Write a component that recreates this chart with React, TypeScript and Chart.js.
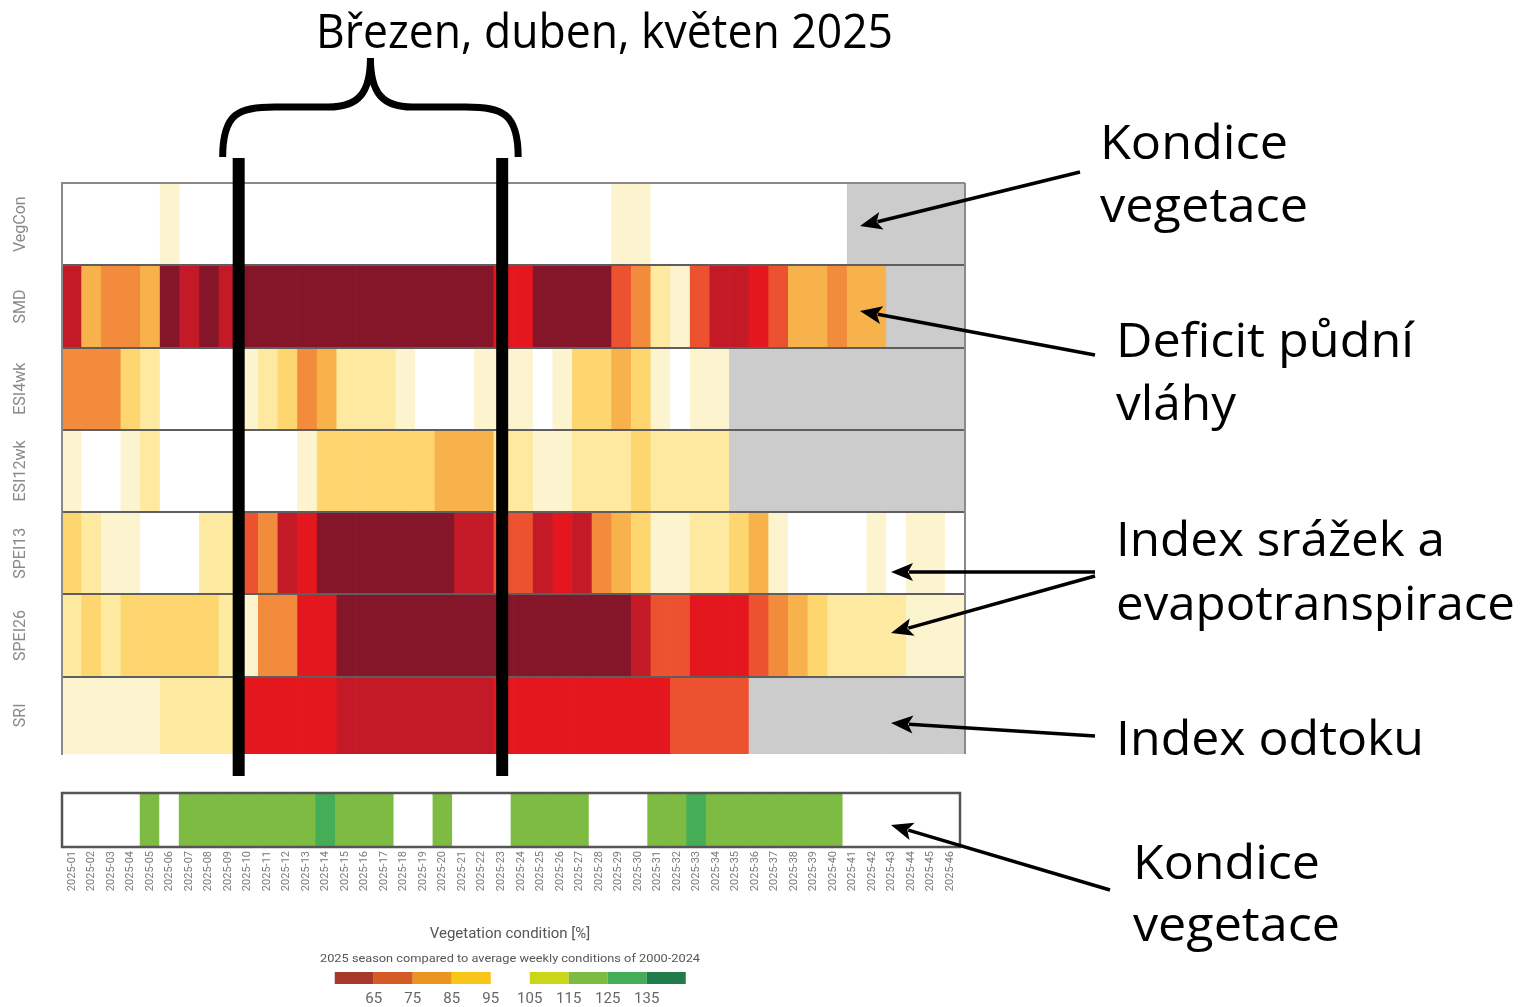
import { useEffect, useRef } from "react";
import { Chart, registerables } from "chart.js";

Chart.register(...registerables);

// ---------- DATA ----------
const weeks = [
  "2025-01", "2025-02", "2025-03", "2025-04", "2025-05", "2025-06", "2025-07", "2025-08", "2025-09", "2025-10",
  "2025-11", "2025-12", "2025-13", "2025-14", "2025-15", "2025-16", "2025-17", "2025-18", "2025-19", "2025-20",
  "2025-21", "2025-22", "2025-23", "2025-24", "2025-25", "2025-26", "2025-27", "2025-28", "2025-29", "2025-30",
  "2025-31", "2025-32", "2025-33", "2025-34", "2025-35", "2025-36", "2025-37", "2025-38", "2025-39", "2025-40",
  "2025-41", "2025-42", "2025-43", "2025-44", "2025-45", "2025-46",
];

const rowLabels = ["VegCon", "SMD", "ESI4wk", "ESI12wk", "SPEI13", "SPEI26", "SRI"];

// severity levels: 0 = none ... 9 = extreme, null = no data
const vegCon = [0, 0, 0, 0, 0, 1, 0, 0, 0, 0, 0, 0, 0, 0, 0, 0, 0, 0, 0, 0, 0, 0, 0, 0, 0, 0, 0, 0, 1, 1, 0, 0, 0, 0, 0, 0, 0, 0, 0, 0, null, null, null, null, null, null];
const smd = [8, 4, 5, 5, 4, 9, 8, 9, 8, 9, 9, 9, 9, 9, 9, 9, 9, 9, 9, 9, 9, 9, 7, 7, 9, 9, 9, 9, 6, 5, 2, 1, 6, 8, 8, 7, 6, 4, 4, 5, 4, 4, null, null, null, null];
const esi4wk = [5, 5, 5, 3, 2, 0, 0, 0, 0, 1, 2, 3, 5, 4, 2, 2, 2, 1, 0, 0, 0, 1, 1, 1, 0, 1, 3, 3, 4, 3, 1, 0, 1, 1, null, null, null, null, null, null, null, null, null, null, null, null];
const esi12wk = [1, 0, 0, 1, 2, 0, 0, 0, 0, 0, 0, 0, 1, 3, 3, 3, 3, 3, 3, 4, 4, 4, 2, 2, 1, 1, 2, 2, 2, 3, 2, 2, 2, 2, null, null, null, null, null, null, null, null, null, null, null, null];
const spei13 = [3, 2, 1, 1, 0, 0, 0, 2, 2, 6, 5, 8, 7, 9, 9, 9, 9, 9, 9, 9, 8, 8, 6, 6, 8, 7, 8, 5, 4, 3, 1, 1, 2, 2, 3, 4, 1, 0, 0, 0, 0, 1, 0, 1, 1, 0];
const spei26 = [2, 3, 2, 3, 3, 3, 3, 3, 2, 1, 5, 5, 7, 7, 9, 9, 9, 9, 9, 9, 9, 9, 9, 9, 9, 9, 9, 9, 9, 8, 6, 6, 7, 7, 7, 6, 5, 4, 3, 2, 2, 2, 2, 1, 1, 1];
const sri = [1, 1, 1, 1, 1, 2, 2, 2, 2, 7, 7, 7, 7, 7, 8, 8, 8, 8, 8, 8, 8, 8, 7, 7, 7, 7, 7, 7, 7, 7, 7, 6, 6, 6, 6, null, null, null, null, null, null, null, null, null, null, null];

// vegetation condition [%] per week (bottom strip)
const vegCondition = [100, 100, 100, 100, 120, 100, 120, 120, 120, 120, 120, 120, 120, 130, 120, 120, 120, 100, 100, 120, 100, 100, 100, 120, 120, 120, 120, 100, 100, 100, 120, 120, 130, 120, 120, 120, 120, 120, 120, 120, 100, 100, 100, 100, 100, 100];

const legendBounds = [55, 65, 75, 85, 95, 105, 115, 125, 135, 145];
const legendColors = ["#a5372b", "#d45a26", "#e9951f", "#f9c51a", null, "#cbd619", "#7dbb42", "#45ad57", "#1f7b4a"];
const legendTicks = [65, 75, 85, 95, 105, 115, 125, 135];

const periodStart = "2025-10";
const periodEnd = "2025-23";

// ---------- STYLE ----------
const levelColors = ["#ffffff", "#fbf4cf", "#fde99f", "#fdd670", "#f7b24b", "#f28b3c", "#ec5230", "#e3171d", "#c41a28", "#851629"];
const noDataColor = "#cccccc";
const rows = [vegCon, smd, esi4wk, esi12wk, spei13, spei26, sri];
const FONT = '"Open Sans", "Noto Sans", sans-serif';

function vegColor(v: number) {
  for (let i = 0; i < legendColors.length; i++) {
    if (v >= legendBounds[i] && v < legendBounds[i + 1]) return legendColors[i] || "#ffffff";
  }
  return "#ffffff";
}

function drawFit(ctx: CanvasRenderingContext2D, text: string, x: number, y: number, size: number, width: number) {
  ctx.font = `${size}px ${FONT}`;
  const w = ctx.measureText(text).width;
  ctx.save();
  ctx.translate(x, y);
  ctx.scale(width / w, 1);
  ctx.textAlign = "left";
  ctx.textBaseline = "alphabetic";
  ctx.fillText(text, 0, 0);
  ctx.restore();
}

function arrow(ctx: CanvasRenderingContext2D, x1: number, y1: number, x2: number, y2: number) {
  const a = Math.atan2(y2 - y1, x2 - x1);
  const hl = 22, hw = 9;
  const bx = x2 - hl * Math.cos(a), by = y2 - hl * Math.sin(a);
  ctx.lineWidth = 3.5;
  ctx.beginPath();
  ctx.moveTo(x1, y1);
  ctx.lineTo(bx + 4 * Math.cos(a), by + 4 * Math.sin(a));
  ctx.stroke();
  ctx.beginPath();
  ctx.moveTo(x2, y2);
  ctx.lineTo(bx + hw * Math.sin(a), by - hw * Math.cos(a));
  ctx.lineTo(bx + 5 * Math.cos(a), by + 5 * Math.sin(a));
  ctx.lineTo(bx - hw * Math.sin(a), by + hw * Math.cos(a));
  ctx.closePath();
  ctx.fill();
}

const overlayPlugin = {
  id: "overlay",
  afterDraw(chart: any) {
    const { ctx, chartArea, scales } = chart;
    const xs = scales.x, ys = scales.y;
    ctx.save();
    // right frame line
    ctx.strokeStyle = "#8a8a8a";
    ctx.lineWidth = 2;
    ctx.beginPath();
    ctx.moveTo(chartArea.right, chartArea.top);
    ctx.lineTo(chartArea.right, chartArea.bottom);
    ctx.stroke();

    // row labels
    ctx.fillStyle = "#8a8a8a";
    ctx.font = "16px Roboto";
    ctx.textAlign = "center";
    ctx.textBaseline = "middle";
    rowLabels.forEach((lab, i) => {
      const y0 = ys.getPixelForValue(i);
      const y1 = Math.min(ys.getPixelForValue(i + 1), chartArea.bottom);
      ctx.save();
      ctx.translate(21, (y0 + y1) / 2);
      ctx.rotate(-Math.PI / 2);
      ctx.fillText(lab, 0, 0);
      ctx.restore();
    });

    // period lines
    const half = (xs.getPixelForValue(1) - xs.getPixelForValue(0)) / 2;
    const lx = xs.getPixelForValue(weeks.indexOf(periodStart)) - half;
    const rx = xs.getPixelForValue(weeks.indexOf(periodEnd)) - 1.5;
    ctx.fillStyle = "#000";
    ctx.fillRect(lx - 6, 158, 12, 618);
    ctx.fillRect(rx - 6, 158, 12, 618);

    // brace
    const L = lx - 16, R = rx + 16, M = (L + R) / 2;
    const yb = 157, ym = 107, yp = 58;
    ctx.strokeStyle = "#000";
    ctx.lineWidth = 7;
    ctx.lineCap = "butt";
    ctx.beginPath();
    ctx.moveTo(L, yb);
    ctx.bezierCurveTo(L, ym + 6, L + 16, ym, L + 52, ym);
    ctx.lineTo(M - 42, ym);
    ctx.bezierCurveTo(M - 12, ym, M, ym - 14, M, yp);
    ctx.bezierCurveTo(M, ym - 14, M + 12, ym, M + 42, ym);
    ctx.lineTo(R - 52, ym);
    ctx.bezierCurveTo(R - 16, ym, R, ym + 6, R, yb);
    ctx.stroke();

    // texts
    ctx.fillStyle = "#000";
    drawFit(ctx, "Březen, duben, květen 2025", 316, 48, 47, 577);
    drawFit(ctx, "Kondice", 1100, 159, 47, 188);
    drawFit(ctx, "vegetace", 1100, 222, 47, 208);
    drawFit(ctx, "Deficit půdní", 1116, 357, 47, 298);
    drawFit(ctx, "vláhy", 1116, 420, 47, 120);
    drawFit(ctx, "Index srážek a", 1116, 556, 47, 329);
    drawFit(ctx, "evapotranspirace", 1116, 620, 47, 399);
    drawFit(ctx, "Index odtoku", 1116, 755, 47, 308);
    drawFit(ctx, "Kondice", 1133, 879, 47, 187);
    drawFit(ctx, "vegetace", 1133, 941, 47, 207);

    // arrows
    ctx.strokeStyle = "#000";
    ctx.fillStyle = "#000";
    arrow(ctx, 1080, 172, 860, 226);
    arrow(ctx, 1095, 355, 860, 311);
    arrow(ctx, 1095, 572, 891, 572);
    arrow(ctx, 1095, 576, 891, 633);
    arrow(ctx, 1095, 736, 891, 723);
    arrow(ctx, 1110, 890, 891, 825);

    // colour legend
    const lx0 = 334.75, per = 3.9;
    const vx = (v: number) => lx0 + (v - legendBounds[0]) * per;
    ctx.fillStyle = "#555";
    ctx.font = "15px Roboto";
    ctx.textAlign = "center";
    ctx.textBaseline = "alphabetic";
    ctx.fillText("Vegetation condition [%]", 510, 938);
    ctx.font = "10.5px Roboto";
    const sub = "2025 season compared to average weekly conditions of 2000-2024";
    const sw = ctx.measureText(sub).width;
    ctx.save();
    ctx.translate(510, 962);
    ctx.scale(380 / sw, 1);
    ctx.fillText(sub, 0, 0);
    ctx.restore();
    legendColors.forEach((c, i) => {
      if (!c) return;
      ctx.fillStyle = c;
      ctx.fillRect(vx(legendBounds[i]), 972, vx(legendBounds[i + 1]) - vx(legendBounds[i]), 12);
    });
    ctx.fillStyle = "#666";
    ctx.font = "15px Roboto";
    legendTicks.forEach((t) => ctx.fillText(String(t), vx(t), 1003));
    ctx.restore();
  },
};

const stripFrame = {
  id: "stripFrame",
  afterDatasetsDraw(chart: any) {
    const { ctx, chartArea } = chart;
    ctx.save();
    ctx.strokeStyle = "#555";
    ctx.lineWidth = 2.5;
    ctx.strokeRect(chartArea.left, chartArea.top, chartArea.right - chartArea.left, chartArea.bottom - chartArea.top);
    ctx.restore();
  },
};

export default function App() {
  const mainRef = useRef<HTMLCanvasElement>(null);
  const stripRef = useRef<HTMLCanvasElement>(null);

  useEffect(() => {
    const main = new Chart(mainRef.current as HTMLCanvasElement, {
      type: "bar",
      data: {
        labels: weeks,
        datasets: rows.map((levels, r) => ({
          label: rowLabels[r],
          data: levels.map(() => [r, r + 1]),
          backgroundColor: levels.map((l) => (l === null ? noDataColor : levelColors[l])),
          borderWidth: 0,
          grouped: false,
          barPercentage: 1,
          categoryPercentage: 1,
        })) as any,
      },
      options: {
        responsive: false,
        animation: false,
        events: [],
        layout: { padding: { left: 62, top: 183, right: 556, bottom: 253 } },
        plugins: { legend: { display: false }, tooltip: { enabled: false } },
        scales: {
          x: { type: "category", display: false },
          y: {
            display: true,
            min: 0,
            max: 6.94,
            reverse: true,
            ticks: { display: false, stepSize: 1, includeBounds: false },
            grid: {
              color: (c: any) => (c.tick && c.tick.value === 0 ? "#8a8a8a" : "#5e5e5e"),
              lineWidth: 2,
              drawTicks: false,
              z: 1,
            },
            border: { display: true, color: "#8a8a8a", width: 2, z: 1 },
            afterFit: (s: any) => {
              s.width = 0;
            },
          },
        },
      } as any,
      plugins: [overlayPlugin],
    });

    const strip = new Chart(stripRef.current as HTMLCanvasElement, {
      type: "bar",
      data: {
        labels: weeks,
        datasets: [
          {
            label: "Vegetation condition",
            data: vegCondition.map(() => [0, 1]),
            backgroundColor: vegCondition.map(vegColor),
            borderWidth: 0,
            barPercentage: 1,
            categoryPercentage: 1,
          },
        ] as any,
      },
      options: {
        responsive: false,
        animation: false,
        events: [],
        layout: { padding: { left: 62, right: 40, top: 13, bottom: 0 } },
        plugins: { legend: { display: false }, tooltip: { enabled: false } },
        scales: {
          x: {
            type: "category",
            grid: { display: false, drawTicks: false },
            border: { display: false },
            ticks: {
              autoSkip: false,
              minRotation: 90,
              maxRotation: 90,
              padding: 4,
              color: "#7a7a7a",
              font: { size: 11, family: "Roboto" },
            },
            afterFit: (s: any) => {
              s.height = 160;
            },
          },
          y: { display: false, min: 0, max: 1 },
        },
      } as any,
      plugins: [stripFrame],
    });

    return () => {
      main.destroy();
      strip.destroy();
    };
  }, []);

  return (
    <div style={{ position: "absolute", left: 0, top: 0, width: 1521, height: 1007, background: "#fff", overflow: "hidden" }}>
      <canvas ref={stripRef} width={1000} height={227} style={{ position: "absolute", left: 0, top: 780 }} />
      <canvas
        ref={mainRef}
        width={1521}
        height={1007}
        style={{ position: "absolute", left: 0, top: 0, pointerEvents: "none" }}
      />
    </div>
  );
}
